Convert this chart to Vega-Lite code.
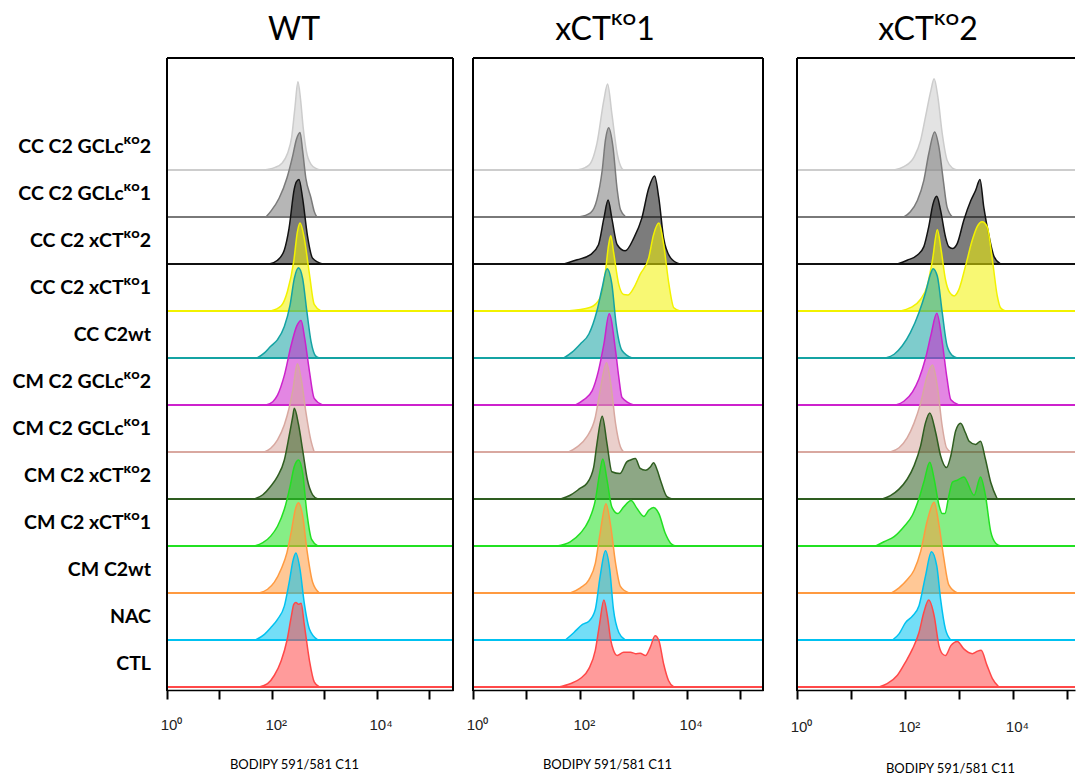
{
  "$schema": "https://vega.github.io/schema/vega-lite/v6.json",
  "padding": {"left": 12, "top": 14, "right": 0, "bottom": 0},
  "config": {"view": {"stroke": null}, "font": "Lato", "axis": {"grid": false, "labelOverlap": false, "labelBound": false, "labelFlush": false, "labelFont": "Liberation Sans", "labelFontSize": 15, "labelColor": "#222"}},
  "data": {"values": [
{"p":"WT","s":"CC C2 GCLcᴷᴼ2","L":1.85,"h":0},{"p":"WT","s":"CC C2 GCLcᴷᴼ2","L":2.05,"h":0.05},{"p":"WT","s":"CC C2 GCLcᴷᴼ2","L":2.2,"h":0.15},{"p":"WT","s":"CC C2 GCLcᴷᴼ2","L":2.3,"h":0.35},{"p":"WT","s":"CC C2 GCLcᴷᴼ2","L":2.38,"h":0.7},{"p":"WT","s":"CC C2 GCLcᴷᴼ2","L":2.44,"h":1.3},{"p":"WT","s":"CC C2 GCLcᴷᴼ2","L":2.5,"h":1.88},{"p":"WT","s":"CC C2 GCLcᴷᴼ2","L":2.55,"h":1.5},{"p":"WT","s":"CC C2 GCLcᴷᴼ2","L":2.6,"h":0.9},{"p":"WT","s":"CC C2 GCLcᴷᴼ2","L":2.66,"h":0.4},{"p":"WT","s":"CC C2 GCLcᴷᴼ2","L":2.75,"h":0.12},{"p":"WT","s":"CC C2 GCLcᴷᴼ2","L":2.85,"h":0.03},{"p":"WT","s":"CC C2 GCLcᴷᴼ2","L":2.94,"h":0},
{"p":"WT","s":"CC C2 GCLcᴷᴼ1","L":1.89,"h":0},{"p":"WT","s":"CC C2 GCLcᴷᴼ1","L":1.98,"h":0.12},{"p":"WT","s":"CC C2 GCLcᴷᴼ1","L":2.14,"h":0.4},{"p":"WT","s":"CC C2 GCLcᴷᴼ1","L":2.29,"h":0.83},{"p":"WT","s":"CC C2 GCLcᴷᴼ1","L":2.4,"h":1.3},{"p":"WT","s":"CC C2 GCLcᴷᴼ1","L":2.47,"h":1.65},{"p":"WT","s":"CC C2 GCLcᴷᴼ1","L":2.54,"h":1.8},{"p":"WT","s":"CC C2 GCLcᴷᴼ1","L":2.59,"h":1.4},{"p":"WT","s":"CC C2 GCLcᴷᴼ1","L":2.65,"h":0.83},{"p":"WT","s":"CC C2 GCLcᴷᴼ1","L":2.75,"h":0.4},{"p":"WT","s":"CC C2 GCLcᴷᴼ1","L":2.81,"h":0.12},{"p":"WT","s":"CC C2 GCLcᴷᴼ1","L":2.86,"h":0},
{"p":"WT","s":"CC C2 xCTᴷᴼ2","L":1.95,"h":0},{"p":"WT","s":"CC C2 xCTᴷᴼ2","L":2.11,"h":0.08},{"p":"WT","s":"CC C2 xCTᴷᴼ2","L":2.24,"h":0.3},{"p":"WT","s":"CC C2 xCTᴷᴼ2","L":2.33,"h":0.76},{"p":"WT","s":"CC C2 xCTᴷᴼ2","L":2.43,"h":1.6},{"p":"WT","s":"CC C2 xCTᴷᴼ2","L":2.47,"h":1.75},{"p":"WT","s":"CC C2 xCTᴷᴼ2","L":2.52,"h":1.8},{"p":"WT","s":"CC C2 xCTᴷᴼ2","L":2.59,"h":1.39},{"p":"WT","s":"CC C2 xCTᴷᴼ2","L":2.68,"h":0.61},{"p":"WT","s":"CC C2 xCTᴷᴼ2","L":2.78,"h":0.12},{"p":"WT","s":"CC C2 xCTᴷᴼ2","L":2.97,"h":0},
{"p":"WT","s":"CC C2 xCTᴷᴼ1","L":1.98,"h":0},{"p":"WT","s":"CC C2 xCTᴷᴼ1","L":2.18,"h":0.11},{"p":"WT","s":"CC C2 xCTᴷᴼ1","L":2.3,"h":0.42},{"p":"WT","s":"CC C2 xCTᴷᴼ1","L":2.42,"h":1.06},{"p":"WT","s":"CC C2 xCTᴷᴼ1","L":2.49,"h":1.69},{"p":"WT","s":"CC C2 xCTᴷᴼ1","L":2.54,"h":1.87},{"p":"WT","s":"CC C2 xCTᴷᴼ1","L":2.62,"h":1.55},{"p":"WT","s":"CC C2 xCTᴷᴼ1","L":2.72,"h":0.78},{"p":"WT","s":"CC C2 xCTᴷᴼ1","L":2.81,"h":0.14},{"p":"WT","s":"CC C2 xCTᴷᴼ1","L":2.94,"h":0},
{"p":"WT","s":"CC C2wt","L":1.72,"h":0},{"p":"WT","s":"CC C2wt","L":1.86,"h":0.11},{"p":"WT","s":"CC C2wt","L":1.98,"h":0.25},{"p":"WT","s":"CC C2wt","L":2.11,"h":0.39},{"p":"WT","s":"CC C2wt","L":2.24,"h":0.67},{"p":"WT","s":"CC C2wt","L":2.35,"h":1.13},{"p":"WT","s":"CC C2wt","L":2.43,"h":1.69},{"p":"WT","s":"CC C2wt","L":2.51,"h":1.92},{"p":"WT","s":"CC C2wt","L":2.59,"h":1.69},{"p":"WT","s":"CC C2wt","L":2.67,"h":0.99},{"p":"WT","s":"CC C2wt","L":2.75,"h":0.35},{"p":"WT","s":"CC C2wt","L":2.84,"h":0.04},{"p":"WT","s":"CC C2wt","L":2.91,"h":0},
{"p":"WT","s":"CM C2 GCLcᴷᴼ2","L":1.89,"h":0},{"p":"WT","s":"CM C2 GCLcᴷᴼ2","L":2.02,"h":0.07},{"p":"WT","s":"CM C2 GCLcᴷᴼ2","L":2.11,"h":0.21},{"p":"WT","s":"CM C2 GCLcᴷᴼ2","L":2.24,"h":0.63},{"p":"WT","s":"CM C2 GCLcᴷᴼ2","L":2.37,"h":1.27},{"p":"WT","s":"CM C2 GCLcᴷᴼ2","L":2.48,"h":1.69},{"p":"WT","s":"CM C2 GCLcᴷᴼ2","L":2.56,"h":1.8},{"p":"WT","s":"CM C2 GCLcᴷᴼ2","L":2.63,"h":1.41},{"p":"WT","s":"CM C2 GCLcᴷᴼ2","L":2.72,"h":0.71},{"p":"WT","s":"CM C2 GCLcᴷᴼ2","L":2.81,"h":0.14},{"p":"WT","s":"CM C2 GCLcᴷᴼ2","L":2.97,"h":0},
{"p":"WT","s":"CM C2 GCLcᴷᴼ1","L":1.86,"h":0},{"p":"WT","s":"CM C2 GCLcᴷᴼ1","L":1.98,"h":0.08},{"p":"WT","s":"CM C2 GCLcᴷᴼ1","L":2.11,"h":0.26},{"p":"WT","s":"CM C2 GCLcᴷᴼ1","L":2.24,"h":0.58},{"p":"WT","s":"CM C2 GCLcᴷᴼ1","L":2.33,"h":0.93},{"p":"WT","s":"CM C2 GCLcᴷᴼ1","L":2.4,"h":1.3},{"p":"WT","s":"CM C2 GCLcᴷᴼ1","L":2.49,"h":1.88},{"p":"WT","s":"CM C2 GCLcᴷᴼ1","L":2.57,"h":1.5},{"p":"WT","s":"CM C2 GCLcᴷᴼ1","L":2.65,"h":0.86},{"p":"WT","s":"CM C2 GCLcᴷᴼ1","L":2.75,"h":0.23},{"p":"WT","s":"CM C2 GCLcᴷᴼ1","L":2.81,"h":0},
{"p":"WT","s":"CM C2 xCTᴷᴼ2","L":1.67,"h":0},{"p":"WT","s":"CM C2 xCTᴷᴼ2","L":1.83,"h":0.09},{"p":"WT","s":"CM C2 xCTᴷᴼ2","L":1.98,"h":0.27},{"p":"WT","s":"CM C2 xCTᴷᴼ2","L":2.11,"h":0.48},{"p":"WT","s":"CM C2 xCTᴷᴼ2","L":2.24,"h":0.83},{"p":"WT","s":"CM C2 xCTᴷᴼ2","L":2.33,"h":1.33},{"p":"WT","s":"CM C2 xCTᴷᴼ2","L":2.4,"h":1.75},{"p":"WT","s":"CM C2 xCTᴷᴼ2","L":2.43,"h":1.93},{"p":"WT","s":"CM C2 xCTᴷᴼ2","L":2.51,"h":1.59},{"p":"WT","s":"CM C2 xCTᴷᴼ2","L":2.59,"h":1.04},{"p":"WT","s":"CM C2 xCTᴷᴼ2","L":2.68,"h":0.41},{"p":"WT","s":"CM C2 xCTᴷᴼ2","L":2.78,"h":0.09},{"p":"WT","s":"CM C2 xCTᴷᴼ2","L":2.88,"h":0},
{"p":"WT","s":"CM C2 xCTᴷᴼ1","L":1.67,"h":0},{"p":"WT","s":"CM C2 xCTᴷᴼ1","L":1.83,"h":0.07},{"p":"WT","s":"CM C2 xCTᴷᴼ1","L":1.98,"h":0.21},{"p":"WT","s":"CM C2 xCTᴷᴼ1","L":2.11,"h":0.42},{"p":"WT","s":"CM C2 xCTᴷᴼ1","L":2.24,"h":0.78},{"p":"WT","s":"CM C2 xCTᴷᴼ1","L":2.35,"h":1.27},{"p":"WT","s":"CM C2 xCTᴷᴼ1","L":2.43,"h":1.69},{"p":"WT","s":"CM C2 xCTᴷᴼ1","L":2.51,"h":1.83},{"p":"WT","s":"CM C2 xCTᴷᴼ1","L":2.59,"h":1.55},{"p":"WT","s":"CM C2 xCTᴷᴼ1","L":2.67,"h":0.71},{"p":"WT","s":"CM C2 xCTᴷᴼ1","L":2.76,"h":0.14},{"p":"WT","s":"CM C2 xCTᴷᴼ1","L":2.88,"h":0},
{"p":"WT","s":"CM C2wt","L":1.76,"h":0},{"p":"WT","s":"CM C2wt","L":1.92,"h":0.08},{"p":"WT","s":"CM C2wt","L":2.05,"h":0.23},{"p":"WT","s":"CM C2wt","L":2.18,"h":0.51},{"p":"WT","s":"CM C2wt","L":2.29,"h":0.86},{"p":"WT","s":"CM C2wt","L":2.38,"h":1.35},{"p":"WT","s":"CM C2wt","L":2.45,"h":1.78},{"p":"WT","s":"CM C2wt","L":2.51,"h":1.92},{"p":"WT","s":"CM C2wt","L":2.59,"h":1.64},{"p":"WT","s":"CM C2wt","L":2.67,"h":0.93},{"p":"WT","s":"CM C2wt","L":2.78,"h":0.23},{"p":"WT","s":"CM C2wt","L":2.91,"h":0},
{"p":"WT","s":"NAC","L":1.69,"h":0},{"p":"WT","s":"NAC","L":1.86,"h":0.12},{"p":"WT","s":"NAC","L":1.98,"h":0.26},{"p":"WT","s":"NAC","L":2.11,"h":0.44},{"p":"WT","s":"NAC","L":2.24,"h":0.72},{"p":"WT","s":"NAC","L":2.33,"h":1.21},{"p":"WT","s":"NAC","L":2.41,"h":1.71},{"p":"WT","s":"NAC","L":2.46,"h":1.85},{"p":"WT","s":"NAC","L":2.54,"h":1.5},{"p":"WT","s":"NAC","L":2.62,"h":0.79},{"p":"WT","s":"NAC","L":2.72,"h":0.23},{"p":"WT","s":"NAC","L":2.88,"h":0},
{"p":"WT","s":"CTL","L":1.76,"h":0},{"p":"WT","s":"CTL","L":1.92,"h":0.07},{"p":"WT","s":"CTL","L":2.05,"h":0.25},{"p":"WT","s":"CTL","L":2.18,"h":0.56},{"p":"WT","s":"CTL","L":2.29,"h":0.99},{"p":"WT","s":"CTL","L":2.37,"h":1.48},{"p":"WT","s":"CTL","L":2.42,"h":1.76},{"p":"WT","s":"CTL","L":2.46,"h":1.8},{"p":"WT","s":"CTL","L":2.51,"h":1.76},{"p":"WT","s":"CTL","L":2.56,"h":1.78},{"p":"WT","s":"CTL","L":2.62,"h":1.34},{"p":"WT","s":"CTL","L":2.72,"h":0.56},{"p":"WT","s":"CTL","L":2.81,"h":0.11},{"p":"WT","s":"CTL","L":2.91,"h":0},

{"p":"xCTᴷᴼ1","s":"CC C2 GCLcᴷᴼ2","L":1.95,"h":0},{"p":"xCTᴷᴼ1","s":"CC C2 GCLcᴷᴼ2","L":2.1,"h":0.05},{"p":"xCTᴷᴼ1","s":"CC C2 GCLcᴷᴼ2","L":2.2,"h":0.14},{"p":"xCTᴷᴼ1","s":"CC C2 GCLcᴷᴼ2","L":2.32,"h":0.56},{"p":"xCTᴷᴼ1","s":"CC C2 GCLcᴷᴼ2","L":2.45,"h":1.48},{"p":"xCTᴷᴼ1","s":"CC C2 GCLcᴷᴼ2","L":2.52,"h":1.83},{"p":"xCTᴷᴼ1","s":"CC C2 GCLcᴷᴼ2","L":2.6,"h":1.2},{"p":"xCTᴷᴼ1","s":"CC C2 GCLcᴷᴼ2","L":2.7,"h":0.35},{"p":"xCTᴷᴼ1","s":"CC C2 GCLcᴷᴼ2","L":2.79,"h":0.03},{"p":"xCTᴷᴼ1","s":"CC C2 GCLcᴷᴼ2","L":2.82,"h":0},
{"p":"xCTᴷᴼ1","s":"CC C2 GCLcᴷᴼ1","L":1.98,"h":0},{"p":"xCTᴷᴼ1","s":"CC C2 GCLcᴷᴼ1","L":2.2,"h":0.09},{"p":"xCTᴷᴼ1","s":"CC C2 GCLcᴷᴼ1","L":2.32,"h":0.37},{"p":"xCTᴷᴼ1","s":"CC C2 GCLcᴷᴼ1","L":2.42,"h":1.0},{"p":"xCTᴷᴼ1","s":"CC C2 GCLcᴷᴼ1","L":2.48,"h":1.64},{"p":"xCTᴷᴼ1","s":"CC C2 GCLcᴷᴼ1","L":2.54,"h":1.9},{"p":"xCTᴷᴼ1","s":"CC C2 GCLcᴷᴼ1","L":2.62,"h":1.5},{"p":"xCTᴷᴼ1","s":"CC C2 GCLcᴷᴼ1","L":2.7,"h":0.58},{"p":"xCTᴷᴼ1","s":"CC C2 GCLcᴷᴼ1","L":2.76,"h":0.16},{"p":"xCTᴷᴼ1","s":"CC C2 GCLcᴷᴼ1","L":2.86,"h":0},
{"p":"xCTᴷᴼ1","s":"CC C2 xCTᴷᴼ2","L":1.7,"h":0},{"p":"xCTᴷᴼ1","s":"CC C2 xCTᴷᴼ2","L":1.95,"h":0.09},{"p":"xCTᴷᴼ1","s":"CC C2 xCTᴷᴼ2","L":2.2,"h":0.2},{"p":"xCTᴷᴼ1","s":"CC C2 xCTᴷᴼ2","L":2.35,"h":0.41},{"p":"xCTᴷᴼ1","s":"CC C2 xCTᴷᴼ2","L":2.45,"h":0.97},{"p":"xCTᴷᴼ1","s":"CC C2 xCTᴷᴼ2","L":2.53,"h":1.36},{"p":"xCTᴷᴼ1","s":"CC C2 xCTᴷᴼ2","L":2.6,"h":0.97},{"p":"xCTᴷᴼ1","s":"CC C2 xCTᴷᴼ2","L":2.7,"h":0.41},{"p":"xCTᴷᴼ1","s":"CC C2 xCTᴷᴼ2","L":2.85,"h":0.28},{"p":"xCTᴷᴼ1","s":"CC C2 xCTᴷᴼ2","L":3.01,"h":0.55},{"p":"xCTᴷᴼ1","s":"CC C2 xCTᴷᴼ2","L":3.16,"h":0.97},{"p":"xCTᴷᴼ1","s":"CC C2 xCTᴷᴼ2","L":3.29,"h":1.61},{"p":"xCTᴷᴼ1","s":"CC C2 xCTᴷᴼ2","L":3.4,"h":1.87},{"p":"xCTᴷᴼ1","s":"CC C2 xCTᴷᴼ2","L":3.48,"h":1.4},{"p":"xCTᴷᴼ1","s":"CC C2 xCTᴷᴼ2","L":3.57,"h":0.55},{"p":"xCTᴷᴼ1","s":"CC C2 xCTᴷᴼ2","L":3.7,"h":0.13},{"p":"xCTᴷᴼ1","s":"CC C2 xCTᴷᴼ2","L":3.87,"h":0},
{"p":"xCTᴷᴼ1","s":"CC C2 xCTᴷᴼ1","L":1.76,"h":0},{"p":"xCTᴷᴼ1","s":"CC C2 xCTᴷᴼ1","L":2.2,"h":0.08},{"p":"xCTᴷᴼ1","s":"CC C2 xCTᴷᴼ1","L":2.38,"h":0.28},{"p":"xCTᴷᴼ1","s":"CC C2 xCTᴷᴼ1","L":2.48,"h":0.85},{"p":"xCTᴷᴼ1","s":"CC C2 xCTᴷᴼ1","L":2.54,"h":1.41},{"p":"xCTᴷᴼ1","s":"CC C2 xCTᴷᴼ1","L":2.58,"h":1.6},{"p":"xCTᴷᴼ1","s":"CC C2 xCTᴷᴼ1","L":2.63,"h":1.27},{"p":"xCTᴷᴼ1","s":"CC C2 xCTᴷᴼ1","L":2.73,"h":0.56},{"p":"xCTᴷᴼ1","s":"CC C2 xCTᴷᴼ1","L":2.82,"h":0.35},{"p":"xCTᴷᴼ1","s":"CC C2 xCTᴷᴼ1","L":2.9,"h":0.34},{"p":"xCTᴷᴼ1","s":"CC C2 xCTᴷᴼ1","L":3.01,"h":0.49},{"p":"xCTᴷᴼ1","s":"CC C2 xCTᴷᴼ1","L":3.13,"h":0.78},{"p":"xCTᴷᴼ1","s":"CC C2 xCTᴷᴼ1","L":3.29,"h":1.13},{"p":"xCTᴷᴼ1","s":"CC C2 xCTᴷᴼ1","L":3.38,"h":1.62},{"p":"xCTᴷᴼ1","s":"CC C2 xCTᴷᴼ1","L":3.48,"h":1.87},{"p":"xCTᴷᴼ1","s":"CC C2 xCTᴷᴼ1","L":3.57,"h":1.41},{"p":"xCTᴷᴼ1","s":"CC C2 xCTᴷᴼ1","L":3.67,"h":0.56},{"p":"xCTᴷᴼ1","s":"CC C2 xCTᴷᴼ1","L":3.76,"h":0.07},{"p":"xCTᴷᴼ1","s":"CC C2 xCTᴷᴼ1","L":3.88,"h":0},
{"p":"xCTᴷᴼ1","s":"CC C2wt","L":1.7,"h":0},{"p":"xCTᴷᴼ1","s":"CC C2wt","L":1.85,"h":0.12},{"p":"xCTᴷᴼ1","s":"CC C2wt","L":2.01,"h":0.3},{"p":"xCTᴷᴼ1","s":"CC C2wt","L":2.17,"h":0.51},{"p":"xCTᴷᴼ1","s":"CC C2wt","L":2.32,"h":1.0},{"p":"xCTᴷᴼ1","s":"CC C2wt","L":2.42,"h":1.5},{"p":"xCTᴷᴼ1","s":"CC C2wt","L":2.51,"h":1.9},{"p":"xCTᴷᴼ1","s":"CC C2wt","L":2.6,"h":1.57},{"p":"xCTᴷᴼ1","s":"CC C2wt","L":2.68,"h":0.72},{"p":"xCTᴷᴼ1","s":"CC C2wt","L":2.79,"h":0.16},{"p":"xCTᴷᴼ1","s":"CC C2wt","L":2.98,"h":0},
{"p":"xCTᴷᴼ1","s":"CM C2 GCLcᴷᴼ2","L":1.92,"h":0},{"p":"xCTᴷᴼ1","s":"CM C2 GCLcᴷᴼ2","L":2.07,"h":0.11},{"p":"xCTᴷᴼ1","s":"CM C2 GCLcᴷᴼ2","L":2.23,"h":0.3},{"p":"xCTᴷᴼ1","s":"CM C2 GCLcᴷᴼ2","L":2.35,"h":0.73},{"p":"xCTᴷᴼ1","s":"CM C2 GCLcᴷᴼ2","L":2.45,"h":1.29},{"p":"xCTᴷᴼ1","s":"CM C2 GCLcᴷᴼ2","L":2.55,"h":1.94},{"p":"xCTᴷᴼ1","s":"CM C2 GCLcᴷᴼ2","L":2.67,"h":1.15},{"p":"xCTᴷᴼ1","s":"CM C2 GCLcᴷᴼ2","L":2.73,"h":0.59},{"p":"xCTᴷᴼ1","s":"CM C2 GCLcᴷᴼ2","L":2.79,"h":0.16},{"p":"xCTᴷᴼ1","s":"CM C2 GCLcᴷᴼ2","L":3.01,"h":0},
{"p":"xCTᴷᴼ1","s":"CM C2 GCLcᴷᴼ1","L":1.79,"h":0},{"p":"xCTᴷᴼ1","s":"CM C2 GCLcᴷᴼ1","L":1.95,"h":0.11},{"p":"xCTᴷᴼ1","s":"CM C2 GCLcᴷᴼ1","L":2.13,"h":0.32},{"p":"xCTᴷᴼ1","s":"CM C2 GCLcᴷᴼ1","L":2.29,"h":0.74},{"p":"xCTᴷᴼ1","s":"CM C2 GCLcᴷᴼ1","L":2.38,"h":1.3},{"p":"xCTᴷᴼ1","s":"CM C2 GCLcᴷᴼ1","L":2.5,"h":1.9},{"p":"xCTᴷᴼ1","s":"CM C2 GCLcᴷᴼ1","L":2.58,"h":1.45},{"p":"xCTᴷᴼ1","s":"CM C2 GCLcᴷᴼ1","L":2.67,"h":0.6},{"p":"xCTᴷᴼ1","s":"CM C2 GCLcᴷᴼ1","L":2.76,"h":0.11},{"p":"xCTᴷᴼ1","s":"CM C2 GCLcᴷᴼ1","L":2.82,"h":0},
{"p":"xCTᴷᴼ1","s":"CM C2 xCTᴷᴼ2","L":1.64,"h":0},{"p":"xCTᴷᴼ1","s":"CM C2 xCTᴷᴼ2","L":1.82,"h":0.08},{"p":"xCTᴷᴼ1","s":"CM C2 xCTᴷᴼ2","L":2.01,"h":0.23},{"p":"xCTᴷᴼ1","s":"CM C2 xCTᴷᴼ2","L":2.13,"h":0.33},{"p":"xCTᴷᴼ1","s":"CM C2 xCTᴷᴼ2","L":2.26,"h":0.68},{"p":"xCTᴷᴼ1","s":"CM C2 xCTᴷᴼ2","L":2.32,"h":1.17},{"p":"xCTᴷᴼ1","s":"CM C2 xCTᴷᴼ2","L":2.42,"h":1.76},{"p":"xCTᴷᴼ1","s":"CM C2 xCTᴷᴼ2","L":2.51,"h":1.17},{"p":"xCTᴷᴼ1","s":"CM C2 xCTᴷᴼ2","L":2.6,"h":0.58},{"p":"xCTᴷᴼ1","s":"CM C2 xCTᴷᴼ2","L":2.75,"h":0.54},{"p":"xCTᴷᴼ1","s":"CM C2 xCTᴷᴼ2","L":2.88,"h":0.79},{"p":"xCTᴷᴼ1","s":"CM C2 xCTᴷᴼ2","L":2.95,"h":0.83},{"p":"xCTᴷᴼ1","s":"CM C2 xCTᴷᴼ2","L":3.04,"h":0.86},{"p":"xCTᴷᴼ1","s":"CM C2 xCTᴷᴼ2","L":3.13,"h":0.65},{"p":"xCTᴷᴼ1","s":"CM C2 xCTᴷᴼ2","L":3.23,"h":0.61},{"p":"xCTᴷᴼ1","s":"CM C2 xCTᴷᴼ2","L":3.32,"h":0.68},{"p":"xCTᴷᴼ1","s":"CM C2 xCTᴷᴼ2","L":3.38,"h":0.77},{"p":"xCTᴷᴼ1","s":"CM C2 xCTᴷᴼ2","L":3.45,"h":0.61},{"p":"xCTᴷᴼ1","s":"CM C2 xCTᴷᴼ2","L":3.51,"h":0.4},{"p":"xCTᴷᴼ1","s":"CM C2 xCTᴷᴼ2","L":3.63,"h":0.05},{"p":"xCTᴷᴼ1","s":"CM C2 xCTᴷᴼ2","L":3.73,"h":0},
{"p":"xCTᴷᴼ1","s":"CM C2 xCTᴷᴼ1","L":1.57,"h":0},{"p":"xCTᴷᴼ1","s":"CM C2 xCTᴷᴼ1","L":1.82,"h":0.09},{"p":"xCTᴷᴼ1","s":"CM C2 xCTᴷᴼ1","L":2.01,"h":0.27},{"p":"xCTᴷᴼ1","s":"CM C2 xCTᴷᴼ1","L":2.17,"h":0.55},{"p":"xCTᴷᴼ1","s":"CM C2 xCTᴷᴼ1","L":2.29,"h":0.97},{"p":"xCTᴷᴼ1","s":"CM C2 xCTᴷᴼ1","L":2.37,"h":1.54},{"p":"xCTᴷᴼ1","s":"CM C2 xCTᴷᴼ1","L":2.43,"h":1.85},{"p":"xCTᴷᴼ1","s":"CM C2 xCTᴷᴼ1","L":2.51,"h":1.4},{"p":"xCTᴷᴼ1","s":"CM C2 xCTᴷᴼ1","L":2.6,"h":0.83},{"p":"xCTᴷᴼ1","s":"CM C2 xCTᴷᴼ1","L":2.71,"h":0.69},{"p":"xCTᴷᴼ1","s":"CM C2 xCTᴷᴼ1","L":2.82,"h":0.83},{"p":"xCTᴷᴼ1","s":"CM C2 xCTᴷᴼ1","L":2.96,"h":0.97},{"p":"xCTᴷᴼ1","s":"CM C2 xCTᴷᴼ1","L":3.07,"h":0.8},{"p":"xCTᴷᴼ1","s":"CM C2 xCTᴷᴼ1","L":3.2,"h":0.63},{"p":"xCTᴷᴼ1","s":"CM C2 xCTᴷᴼ1","L":3.29,"h":0.76},{"p":"xCTᴷᴼ1","s":"CM C2 xCTᴷᴼ1","L":3.38,"h":0.82},{"p":"xCTᴷᴼ1","s":"CM C2 xCTᴷᴼ1","L":3.48,"h":0.69},{"p":"xCTᴷᴼ1","s":"CM C2 xCTᴷᴼ1","L":3.6,"h":0.27},{"p":"xCTᴷᴼ1","s":"CM C2 xCTᴷᴼ1","L":3.7,"h":0.06},{"p":"xCTᴷᴼ1","s":"CM C2 xCTᴷᴼ1","L":3.79,"h":0},
{"p":"xCTᴷᴼ1","s":"CM C2wt","L":1.82,"h":0},{"p":"xCTᴷᴼ1","s":"CM C2wt","L":2.01,"h":0.11},{"p":"xCTᴷᴼ1","s":"CM C2wt","L":2.17,"h":0.28},{"p":"xCTᴷᴼ1","s":"CM C2wt","L":2.29,"h":0.63},{"p":"xCTᴷᴼ1","s":"CM C2wt","L":2.38,"h":1.27},{"p":"xCTᴷᴼ1","s":"CM C2wt","L":2.49,"h":1.9},{"p":"xCTᴷᴼ1","s":"CM C2wt","L":2.58,"h":1.41},{"p":"xCTᴷᴼ1","s":"CM C2wt","L":2.67,"h":0.63},{"p":"xCTᴷᴼ1","s":"CM C2wt","L":2.76,"h":0.14},{"p":"xCTᴷᴼ1","s":"CM C2wt","L":2.92,"h":0},
{"p":"xCTᴷᴼ1","s":"NAC","L":1.73,"h":0},{"p":"xCTᴷᴼ1","s":"NAC","L":1.89,"h":0.16},{"p":"xCTᴷᴼ1","s":"NAC","L":2.05,"h":0.33},{"p":"xCTᴷᴼ1","s":"NAC","L":2.17,"h":0.4},{"p":"xCTᴷᴼ1","s":"NAC","L":2.29,"h":0.65},{"p":"xCTᴷᴼ1","s":"NAC","L":2.38,"h":1.35},{"p":"xCTᴷᴼ1","s":"NAC","L":2.48,"h":1.9},{"p":"xCTᴷᴼ1","s":"NAC","L":2.56,"h":1.5},{"p":"xCTᴷᴼ1","s":"NAC","L":2.63,"h":0.65},{"p":"xCTᴷᴼ1","s":"NAC","L":2.73,"h":0.16},{"p":"xCTᴷᴼ1","s":"NAC","L":2.85,"h":0},
{"p":"xCTᴷᴼ1","s":"CTL","L":1.6,"h":0},{"p":"xCTᴷᴼ1","s":"CTL","L":1.82,"h":0.07},{"p":"xCTᴷᴼ1","s":"CTL","L":2.01,"h":0.18},{"p":"xCTᴷᴼ1","s":"CTL","L":2.17,"h":0.39},{"p":"xCTᴷᴼ1","s":"CTL","L":2.29,"h":0.78},{"p":"xCTᴷᴼ1","s":"CTL","L":2.37,"h":1.34},{"p":"xCTᴷᴼ1","s":"CTL","L":2.45,"h":1.85},{"p":"xCTᴷᴼ1","s":"CTL","L":2.52,"h":1.48},{"p":"xCTᴷᴼ1","s":"CTL","L":2.58,"h":0.99},{"p":"xCTᴷᴼ1","s":"CTL","L":2.63,"h":0.78},{"p":"xCTᴷᴼ1","s":"CTL","L":2.7,"h":0.67},{"p":"xCTᴷᴼ1","s":"CTL","L":2.82,"h":0.74},{"p":"xCTᴷᴼ1","s":"CTL","L":2.95,"h":0.74},{"p":"xCTᴷᴼ1","s":"CTL","L":3.04,"h":0.71},{"p":"xCTᴷᴼ1","s":"CTL","L":3.13,"h":0.72},{"p":"xCTᴷᴼ1","s":"CTL","L":3.23,"h":0.67},{"p":"xCTᴷᴼ1","s":"CTL","L":3.32,"h":0.85},{"p":"xCTᴷᴼ1","s":"CTL","L":3.41,"h":1.09},{"p":"xCTᴷᴼ1","s":"CTL","L":3.48,"h":0.99},{"p":"xCTᴷᴼ1","s":"CTL","L":3.57,"h":0.49},{"p":"xCTᴷᴼ1","s":"CTL","L":3.66,"h":0.14},{"p":"xCTᴷᴼ1","s":"CTL","L":3.76,"h":0},

{"p":"xCTᴷᴼ2","s":"CC C2 GCLcᴷᴼ2","L":1.8,"h":0},{"p":"xCTᴷᴼ2","s":"CC C2 GCLcᴷᴼ2","L":1.98,"h":0.07},{"p":"xCTᴷᴼ2","s":"CC C2 GCLcᴷᴼ2","L":2.17,"h":0.28},{"p":"xCTᴷᴼ2","s":"CC C2 GCLcᴷᴼ2","L":2.29,"h":0.63},{"p":"xCTᴷᴼ2","s":"CC C2 GCLcᴷᴼ2","L":2.38,"h":1.13},{"p":"xCTᴷᴼ2","s":"CC C2 GCLcᴷᴼ2","L":2.48,"h":1.69},{"p":"xCTᴷᴼ2","s":"CC C2 GCLcᴷᴼ2","L":2.54,"h":1.94},{"p":"xCTᴷᴼ2","s":"CC C2 GCLcᴷᴼ2","L":2.61,"h":1.55},{"p":"xCTᴷᴼ2","s":"CC C2 GCLcᴷᴼ2","L":2.69,"h":0.78},{"p":"xCTᴷᴼ2","s":"CC C2 GCLcᴷᴼ2","L":2.78,"h":0.21},{"p":"xCTᴷᴼ2","s":"CC C2 GCLcᴷᴼ2","L":2.88,"h":0.04},{"p":"xCTᴷᴼ2","s":"CC C2 GCLcᴷᴼ2","L":2.97,"h":0},
{"p":"xCTᴷᴼ2","s":"CC C2 GCLcᴷᴼ1","L":1.98,"h":0},{"p":"xCTᴷᴼ2","s":"CC C2 GCLcᴷᴼ1","L":2.1,"h":0.11},{"p":"xCTᴷᴼ2","s":"CC C2 GCLcᴷᴼ1","L":2.23,"h":0.35},{"p":"xCTᴷᴼ2","s":"CC C2 GCLcᴷᴼ1","L":2.35,"h":0.78},{"p":"xCTᴷᴼ2","s":"CC C2 GCLcᴷᴼ1","L":2.44,"h":1.34},{"p":"xCTᴷᴼ2","s":"CC C2 GCLcᴷᴼ1","L":2.55,"h":1.81},{"p":"xCTᴷᴼ2","s":"CC C2 GCLcᴷᴼ1","L":2.63,"h":1.48},{"p":"xCTᴷᴼ2","s":"CC C2 GCLcᴷᴼ1","L":2.71,"h":0.78},{"p":"xCTᴷᴼ2","s":"CC C2 GCLcᴷᴼ1","L":2.78,"h":0.21},{"p":"xCTᴷᴼ2","s":"CC C2 GCLcᴷᴼ1","L":2.88,"h":0},
{"p":"xCTᴷᴼ2","s":"CC C2 xCTᴷᴼ2","L":1.86,"h":0},{"p":"xCTᴷᴼ2","s":"CC C2 xCTᴷᴼ2","L":2.04,"h":0.08},{"p":"xCTᴷᴼ2","s":"CC C2 xCTᴷᴼ2","L":2.23,"h":0.19},{"p":"xCTᴷᴼ2","s":"CC C2 xCTᴷᴼ2","L":2.35,"h":0.37},{"p":"xCTᴷᴼ2","s":"CC C2 xCTᴷᴼ2","L":2.44,"h":0.79},{"p":"xCTᴷᴼ2","s":"CC C2 xCTᴷᴼ2","L":2.52,"h":1.28},{"p":"xCTᴷᴼ2","s":"CC C2 xCTᴷᴼ2","L":2.59,"h":1.44},{"p":"xCTᴷᴼ2","s":"CC C2 xCTᴷᴼ2","L":2.66,"h":1.14},{"p":"xCTᴷᴼ2","s":"CC C2 xCTᴷᴼ2","L":2.75,"h":0.58},{"p":"xCTᴷᴼ2","s":"CC C2 xCTᴷᴼ2","L":2.81,"h":0.37},{"p":"xCTᴷᴼ2","s":"CC C2 xCTᴷᴼ2","L":2.88,"h":0.33},{"p":"xCTᴷᴼ2","s":"CC C2 xCTᴷᴼ2","L":2.97,"h":0.44},{"p":"xCTᴷᴼ2","s":"CC C2 xCTᴷᴼ2","L":3.09,"h":0.93},{"p":"xCTᴷᴼ2","s":"CC C2 xCTᴷᴼ2","L":3.22,"h":1.35},{"p":"xCTᴷᴼ2","s":"CC C2 xCTᴷᴼ2","L":3.31,"h":1.57},{"p":"xCTᴷᴼ2","s":"CC C2 xCTᴷᴼ2","L":3.39,"h":1.8},{"p":"xCTᴷᴼ2","s":"CC C2 xCTᴷᴼ2","L":3.46,"h":1.21},{"p":"xCTᴷᴼ2","s":"CC C2 xCTᴷᴼ2","L":3.56,"h":0.58},{"p":"xCTᴷᴼ2","s":"CC C2 xCTᴷᴼ2","L":3.65,"h":0.16},{"p":"xCTᴷᴼ2","s":"CC C2 xCTᴷᴼ2","L":3.77,"h":0},
{"p":"xCTᴷᴼ2","s":"CC C2 xCTᴷᴼ1","L":1.92,"h":0},{"p":"xCTᴷᴼ2","s":"CC C2 xCTᴷᴼ1","L":2.1,"h":0.07},{"p":"xCTᴷᴼ2","s":"CC C2 xCTᴷᴼ1","L":2.29,"h":0.25},{"p":"xCTᴷᴼ2","s":"CC C2 xCTᴷᴼ1","L":2.41,"h":0.53},{"p":"xCTᴷᴼ2","s":"CC C2 xCTᴷᴼ1","L":2.51,"h":1.09},{"p":"xCTᴷᴼ2","s":"CC C2 xCTᴷᴼ1","L":2.6,"h":1.73},{"p":"xCTᴷᴼ2","s":"CC C2 xCTᴷᴼ1","L":2.67,"h":1.3},{"p":"xCTᴷᴼ2","s":"CC C2 xCTᴷᴼ1","L":2.75,"h":0.67},{"p":"xCTᴷᴼ2","s":"CC C2 xCTᴷᴼ1","L":2.83,"h":0.39},{"p":"xCTᴷᴼ2","s":"CC C2 xCTᴷᴼ1","L":2.91,"h":0.32},{"p":"xCTᴷᴼ2","s":"CC C2 xCTᴷᴼ1","L":3.0,"h":0.46},{"p":"xCTᴷᴼ2","s":"CC C2 xCTᴷᴼ1","L":3.12,"h":0.95},{"p":"xCTᴷᴼ2","s":"CC C2 xCTᴷᴼ1","L":3.25,"h":1.52},{"p":"xCTᴷᴼ2","s":"CC C2 xCTᴷᴼ1","L":3.34,"h":1.8},{"p":"xCTᴷᴼ2","s":"CC C2 xCTᴷᴼ1","L":3.43,"h":1.9},{"p":"xCTᴷᴼ2","s":"CC C2 xCTᴷᴼ1","L":3.52,"h":1.8},{"p":"xCTᴷᴼ2","s":"CC C2 xCTᴷᴼ1","L":3.62,"h":1.09},{"p":"xCTᴷᴼ2","s":"CC C2 xCTᴷᴼ1","L":3.71,"h":0.32},{"p":"xCTᴷᴼ2","s":"CC C2 xCTᴷᴼ1","L":3.77,"h":0.07},{"p":"xCTᴷᴼ2","s":"CC C2 xCTᴷᴼ1","L":3.86,"h":0},
{"p":"xCTᴷᴼ2","s":"CC C2wt","L":1.64,"h":0},{"p":"xCTᴷᴼ2","s":"CC C2wt","L":1.8,"h":0.08},{"p":"xCTᴷᴼ2","s":"CC C2wt","L":1.95,"h":0.26},{"p":"xCTᴷᴼ2","s":"CC C2wt","L":2.1,"h":0.54},{"p":"xCTᴷᴼ2","s":"CC C2wt","L":2.26,"h":0.97},{"p":"xCTᴷᴼ2","s":"CC C2wt","L":2.38,"h":1.39},{"p":"xCTᴷᴼ2","s":"CC C2wt","L":2.48,"h":1.81},{"p":"xCTᴷᴼ2","s":"CC C2wt","L":2.52,"h":1.9},{"p":"xCTᴷᴼ2","s":"CC C2wt","L":2.6,"h":1.74},{"p":"xCTᴷᴼ2","s":"CC C2wt","L":2.69,"h":0.97},{"p":"xCTᴷᴼ2","s":"CC C2wt","L":2.78,"h":0.26},{"p":"xCTᴷᴼ2","s":"CC C2wt","L":2.88,"h":0.05},{"p":"xCTᴷᴼ2","s":"CC C2wt","L":2.97,"h":0},
{"p":"xCTᴷᴼ2","s":"CM C2 GCLcᴷᴼ2","L":1.83,"h":0},{"p":"xCTᴷᴼ2","s":"CM C2 GCLcᴷᴼ2","L":1.98,"h":0.08},{"p":"xCTᴷᴼ2","s":"CM C2 GCLcᴷᴼ2","L":2.14,"h":0.28},{"p":"xCTᴷᴼ2","s":"CM C2 GCLcᴷᴼ2","L":2.26,"h":0.56},{"p":"xCTᴷᴼ2","s":"CM C2 GCLcᴷᴼ2","L":2.38,"h":0.99},{"p":"xCTᴷᴼ2","s":"CM C2 GCLcᴷᴼ2","L":2.48,"h":1.48},{"p":"xCTᴷᴼ2","s":"CM C2 GCLcᴷᴼ2","L":2.59,"h":1.95},{"p":"xCTᴷᴼ2","s":"CM C2 GCLcᴷᴼ2","L":2.69,"h":1.34},{"p":"xCTᴷᴼ2","s":"CM C2 GCLcᴷᴼ2","L":2.78,"h":0.56},{"p":"xCTᴷᴼ2","s":"CM C2 GCLcᴷᴼ2","L":2.85,"h":0.11},{"p":"xCTᴷᴼ2","s":"CM C2 GCLcᴷᴼ2","L":3.0,"h":0},
{"p":"xCTᴷᴼ2","s":"CM C2 GCLcᴷᴼ1","L":1.73,"h":0},{"p":"xCTᴷᴼ2","s":"CM C2 GCLcᴷᴼ1","L":1.89,"h":0.09},{"p":"xCTᴷᴼ2","s":"CM C2 GCLcᴷᴼ1","L":2.04,"h":0.3},{"p":"xCTᴷᴼ2","s":"CM C2 GCLcᴷᴼ1","L":2.17,"h":0.62},{"p":"xCTᴷᴼ2","s":"CM C2 GCLcᴷᴼ1","L":2.29,"h":1.04},{"p":"xCTᴷᴼ2","s":"CM C2 GCLcᴷᴼ1","L":2.41,"h":1.61},{"p":"xCTᴷᴼ2","s":"CM C2 GCLcᴷᴼ1","L":2.51,"h":1.85},{"p":"xCTᴷᴼ2","s":"CM C2 GCLcᴷᴼ1","L":2.6,"h":1.4},{"p":"xCTᴷᴼ2","s":"CM C2 GCLcᴷᴼ1","L":2.69,"h":0.55},{"p":"xCTᴷᴼ2","s":"CM C2 GCLcᴷᴼ1","L":2.77,"h":0.09},{"p":"xCTᴷᴼ2","s":"CM C2 GCLcᴷᴼ1","L":2.85,"h":0},
{"p":"xCTᴷᴼ2","s":"CM C2 xCTᴷᴼ2","L":1.58,"h":0},{"p":"xCTᴷᴼ2","s":"CM C2 xCTᴷᴼ2","L":1.73,"h":0.07},{"p":"xCTᴷᴼ2","s":"CM C2 xCTᴷᴼ2","L":1.89,"h":0.21},{"p":"xCTᴷᴼ2","s":"CM C2 xCTᴷᴼ2","L":2.04,"h":0.42},{"p":"xCTᴷᴼ2","s":"CM C2 xCTᴷᴼ2","L":2.17,"h":0.71},{"p":"xCTᴷᴼ2","s":"CM C2 xCTᴷᴼ2","L":2.29,"h":1.13},{"p":"xCTᴷᴼ2","s":"CM C2 xCTᴷᴼ2","L":2.38,"h":1.62},{"p":"xCTᴷᴼ2","s":"CM C2 xCTᴷᴼ2","L":2.46,"h":1.83},{"p":"xCTᴷᴼ2","s":"CM C2 xCTᴷᴼ2","L":2.57,"h":1.41},{"p":"xCTᴷᴼ2","s":"CM C2 xCTᴷᴼ2","L":2.66,"h":0.92},{"p":"xCTᴷᴼ2","s":"CM C2 xCTᴷᴼ2","L":2.77,"h":0.67},{"p":"xCTᴷᴼ2","s":"CM C2 xCTᴷᴼ2","L":2.85,"h":0.92},{"p":"xCTᴷᴼ2","s":"CM C2 xCTᴷᴼ2","L":2.94,"h":1.45},{"p":"xCTᴷᴼ2","s":"CM C2 xCTᴷᴼ2","L":3.03,"h":1.61},{"p":"xCTᴷᴼ2","s":"CM C2 xCTᴷᴼ2","L":3.12,"h":1.41},{"p":"xCTᴷᴼ2","s":"CM C2 xCTᴷᴼ2","L":3.19,"h":1.23},{"p":"xCTᴷᴼ2","s":"CM C2 xCTᴷᴼ2","L":3.31,"h":1.16},{"p":"xCTᴷᴼ2","s":"CM C2 xCTᴷᴼ2","L":3.4,"h":1.23},{"p":"xCTᴷᴼ2","s":"CM C2 xCTᴷᴼ2","L":3.49,"h":0.85},{"p":"xCTᴷᴼ2","s":"CM C2 xCTᴷᴼ2","L":3.59,"h":0.35},{"p":"xCTᴷᴼ2","s":"CM C2 xCTᴷᴼ2","L":3.71,"h":0},
{"p":"xCTᴷᴼ2","s":"CM C2 xCTᴷᴼ1","L":1.46,"h":0},{"p":"xCTᴷᴼ2","s":"CM C2 xCTᴷᴼ1","L":1.61,"h":0.09},{"p":"xCTᴷᴼ2","s":"CM C2 xCTᴷᴼ1","L":1.8,"h":0.2},{"p":"xCTᴷᴼ2","s":"CM C2 xCTᴷᴼ1","L":1.98,"h":0.41},{"p":"xCTᴷᴼ2","s":"CM C2 xCTᴷᴼ1","L":2.14,"h":0.66},{"p":"xCTᴷᴼ2","s":"CM C2 xCTᴷᴼ1","L":2.26,"h":1.01},{"p":"xCTᴷᴼ2","s":"CM C2 xCTᴷᴼ1","L":2.35,"h":1.36},{"p":"xCTᴷᴼ2","s":"CM C2 xCTᴷᴼ1","L":2.46,"h":1.78},{"p":"xCTᴷᴼ2","s":"CM C2 xCTᴷᴼ1","L":2.54,"h":1.43},{"p":"xCTᴷᴼ2","s":"CM C2 xCTᴷᴼ1","L":2.63,"h":0.87},{"p":"xCTᴷᴼ2","s":"CM C2 xCTᴷᴼ1","L":2.69,"h":0.69},{"p":"xCTᴷᴼ2","s":"CM C2 xCTᴷᴼ1","L":2.74,"h":0.69},{"p":"xCTᴷᴼ2","s":"CM C2 xCTᴷᴼ1","L":2.81,"h":1.05},{"p":"xCTᴷᴼ2","s":"CM C2 xCTᴷᴼ1","L":2.88,"h":1.36},{"p":"xCTᴷᴼ2","s":"CM C2 xCTᴷᴼ1","L":2.97,"h":1.4},{"p":"xCTᴷᴼ2","s":"CM C2 xCTᴷᴼ1","L":3.09,"h":1.47},{"p":"xCTᴷᴼ2","s":"CM C2 xCTᴷᴼ1","L":3.28,"h":1.08},{"p":"xCTᴷᴼ2","s":"CM C2 xCTᴷᴼ1","L":3.4,"h":1.47},{"p":"xCTᴷᴼ2","s":"CM C2 xCTᴷᴼ1","L":3.49,"h":1.08},{"p":"xCTᴷᴼ2","s":"CM C2 xCTᴷᴼ1","L":3.59,"h":0.3},{"p":"xCTᴷᴼ2","s":"CM C2 xCTᴷᴼ1","L":3.68,"h":0.06},{"p":"xCTᴷᴼ2","s":"CM C2 xCTᴷᴼ1","L":3.77,"h":0},
{"p":"xCTᴷᴼ2","s":"CM C2wt","L":1.75,"h":0},{"p":"xCTᴷᴼ2","s":"CM C2wt","L":1.89,"h":0.11},{"p":"xCTᴷᴼ2","s":"CM C2wt","L":2.04,"h":0.28},{"p":"xCTᴷᴼ2","s":"CM C2wt","L":2.17,"h":0.49},{"p":"xCTᴷᴼ2","s":"CM C2wt","L":2.29,"h":0.88},{"p":"xCTᴷᴼ2","s":"CM C2wt","L":2.41,"h":1.52},{"p":"xCTᴷᴼ2","s":"CM C2wt","L":2.54,"h":1.93},{"p":"xCTᴷᴼ2","s":"CM C2wt","L":2.63,"h":1.45},{"p":"xCTᴷᴼ2","s":"CM C2wt","L":2.72,"h":0.74},{"p":"xCTᴷᴼ2","s":"CM C2wt","L":2.81,"h":0.18},{"p":"xCTᴷᴼ2","s":"CM C2wt","L":2.97,"h":0},
{"p":"xCTᴷᴼ2","s":"NAC","L":1.77,"h":0},{"p":"xCTᴷᴼ2","s":"NAC","L":1.89,"h":0.13},{"p":"xCTᴷᴼ2","s":"NAC","L":2.01,"h":0.37},{"p":"xCTᴷᴼ2","s":"NAC","L":2.14,"h":0.51},{"p":"xCTᴷᴼ2","s":"NAC","L":2.26,"h":0.73},{"p":"xCTᴷᴼ2","s":"NAC","L":2.38,"h":1.36},{"p":"xCTᴷᴼ2","s":"NAC","L":2.49,"h":1.88},{"p":"xCTᴷᴼ2","s":"NAC","L":2.59,"h":1.57},{"p":"xCTᴷᴼ2","s":"NAC","L":2.66,"h":0.87},{"p":"xCTᴷᴼ2","s":"NAC","L":2.75,"h":0.23},{"p":"xCTᴷᴼ2","s":"NAC","L":2.85,"h":0},
{"p":"xCTᴷᴼ2","s":"CTL","L":1.52,"h":0},{"p":"xCTᴷᴼ2","s":"CTL","L":1.67,"h":0.07},{"p":"xCTᴷᴼ2","s":"CTL","L":1.86,"h":0.25},{"p":"xCTᴷᴼ2","s":"CTL","L":2.01,"h":0.53},{"p":"xCTᴷᴼ2","s":"CTL","L":2.14,"h":0.81},{"p":"xCTᴷᴼ2","s":"CTL","L":2.26,"h":1.16},{"p":"xCTᴷᴼ2","s":"CTL","L":2.35,"h":1.59},{"p":"xCTᴷᴼ2","s":"CTL","L":2.44,"h":1.85},{"p":"xCTᴷᴼ2","s":"CTL","L":2.54,"h":1.52},{"p":"xCTᴷᴼ2","s":"CTL","L":2.63,"h":0.88},{"p":"xCTᴷᴼ2","s":"CTL","L":2.69,"h":0.71},{"p":"xCTᴷᴼ2","s":"CTL","L":2.75,"h":0.67},{"p":"xCTᴷᴼ2","s":"CTL","L":2.85,"h":0.88},{"p":"xCTᴷᴼ2","s":"CTL","L":2.97,"h":0.97},{"p":"xCTᴷᴼ2","s":"CTL","L":3.09,"h":0.81},{"p":"xCTᴷᴼ2","s":"CTL","L":3.25,"h":0.71},{"p":"xCTᴷᴼ2","s":"CTL","L":3.34,"h":0.76},{"p":"xCTᴷᴼ2","s":"CTL","L":3.41,"h":0.78},{"p":"xCTᴷᴼ2","s":"CTL","L":3.52,"h":0.46},{"p":"xCTᴷᴼ2","s":"CTL","L":3.62,"h":0.18},{"p":"xCTᴷᴼ2","s":"CTL","L":3.74,"h":0}
  ]},
  "spacing": 12,
  "hconcat": [
    {
      "title": {"text": "WT", "fontSize": 32, "fontWeight": "normal", "font": "Lato", "color": "#000", "anchor": "middle", "offset": 10, "dx": 61},
      "transform": [{"filter": "datum.p === 'WT'"}],
      "facet": {"row": {"field": "s", "type": "nominal",
        "sort": ["CC C2 GCLcᴷᴼ2","CC C2 GCLcᴷᴼ1","CC C2 xCTᴷᴼ2","CC C2 xCTᴷᴼ1","CC C2wt","CM C2 GCLcᴷᴼ2","CM C2 GCLcᴷᴼ1","CM C2 xCTᴷᴼ2","CM C2 xCTᴷᴼ1","CM C2wt","NAC","CTL"],
        "header": {"title": null, "labelAngle": 0, "labelAlign": "left", "labelFont": "Lato", "labelFontSize": 19.5, "labelFontWeight": "bold", "labelColor": "#000", "labelPadding": 16}}},
      "spacing": 0,
      "bounds": "flush",
      "spec": {
        "width": 286, "height": 47,
        "layer": [
          {"mark": {"type": "rule", "strokeWidth": 1.3},
           "encoding": {"y": {"datum": 0, "type": "quantitative", "axis": null},
             "color": {"field": "s", "type": "nominal", "legend": null, "scale": {"domain": ["CC C2 GCLcᴷᴼ2","CC C2 GCLcᴷᴼ1","CC C2 xCTᴷᴼ2","CC C2 xCTᴷᴼ1","CC C2wt","CM C2 GCLcᴷᴼ2","CM C2 GCLcᴷᴼ1","CM C2 xCTᴷᴼ2","CM C2 xCTᴷᴼ1","CM C2wt","NAC","CTL"], "range": ["#cccccc","#7a7a7a","#111111","#f2f200","#14a3a3","#cc22cc","#d8a8a0","#2f5e20","#22e022","#ff9a40","#00c2f0","#ff4848"]}}}},
          {"mark": {"type": "area", "interpolate": "monotone", "fillOpacity": 0.55},
           "encoding": {
             "x": {"field": "L", "type": "quantitative", "scale": {"domain": [0, 5.46], "nice": false, "zero": false},
               "axis": {"orient": "bottom", "offset": 3, "domainColor": "#000", "domainWidth": 1.5, "tickColor": "#000", "tickSize": 9, "tickWidth": 2,
                 "values": [0, 1, 2, 3, 4, 5],
                 "labelExpr": "datum.value < 0.01 ? '10⁰' : abs(datum.value - 2) < 0.01 ? '10²' : abs(datum.value - 4) < 0.01 ? '10⁴' : ''",
                 "labelOverlap": false, "labelFlush": false, "labelBound": false, "labelFont": "Liberation Sans", "labelFontSize": 15, "labelColor": "#222", "labelPadding": 18, "labelOffset": 4,
                 "title": "BODIPY 591/581 C11", "titleFont": "Lato", "titleFontSize": 13, "titleFontWeight": "normal", "titleColor": "#000", "titlePadding": 26, "titleX": 127}},
             "y": {"field": "h", "type": "quantitative", "scale": {"domain": [0, 1], "nice": false, "zero": true}, "axis": null},
             "color": {"field": "s", "type": "nominal", "legend": null}}},
          {"mark": {"type": "line", "interpolate": "monotone", "strokeWidth": 1.5},
           "encoding": {
             "x": {"field": "L", "type": "quantitative", "axis": {"title": "BODIPY 591/581 C11", "labelOverlap": false}},
             "y": {"field": "h", "type": "quantitative", "axis": null},
             "color": {"field": "s", "type": "nominal", "legend": null}}},
          {"mark": {"type": "rule", "color": "#000", "strokeWidth": 1.5},
           "encoding": {"y": {"datum": 2.38, "type": "quantitative", "axis": null},
             "strokeOpacity": {"condition": {"test": "datum.s === 'CC C2 GCLcᴷᴼ2'", "value": 1}, "value": 0}}},
          {"mark": {"type": "rule", "color": "#000", "strokeWidth": 1.5},
           "encoding": {"x": {"datum": 0, "type": "quantitative", "axis": {"title": "BODIPY 591/581 C11", "labelOverlap": false}}, "y": {"datum": -0.07, "type": "quantitative", "axis": null}, "y2": {"datum": 2.38}}},
          {"mark": {"type": "rule", "color": "#000", "strokeWidth": 1.5},
           "encoding": {"x": {"datum": 5.46, "type": "quantitative", "axis": {"title": "BODIPY 591/581 C11", "labelOverlap": false}}, "y": {"datum": -0.07, "type": "quantitative", "axis": null}, "y2": {"datum": 2.38}}}
        ]
      }
    },
    {
      "spacing": 26,
      "hconcat": [
        {
          "title": {"text": "xCTᴷᴼ1", "fontSize": 32, "fontWeight": "normal", "font": "Lato", "color": "#000", "anchor": "middle", "offset": 10, "dx": -10},
          "transform": [{"filter": "datum.p === 'xCTᴷᴼ1'"}],
          "facet": {"row": {"field": "s", "type": "nominal",
            "sort": ["CC C2 GCLcᴷᴼ2","CC C2 GCLcᴷᴼ1","CC C2 xCTᴷᴼ2","CC C2 xCTᴷᴼ1","CC C2wt","CM C2 GCLcᴷᴼ2","CM C2 GCLcᴷᴼ1","CM C2 xCTᴷᴼ2","CM C2 xCTᴷᴼ1","CM C2wt","NAC","CTL"],
            "header": null}},
          "spacing": 0,
          "bounds": "flush",
          "spec": {
            "width": 290, "height": 47,
            "layer": [
              {"mark": {"type": "rule", "strokeWidth": 1.3},
               "encoding": {"y": {"datum": 0, "type": "quantitative", "axis": null},
                 "color": {"field": "s", "type": "nominal", "legend": null}}},
              {"mark": {"type": "area", "interpolate": "monotone", "fillOpacity": 0.55},
               "encoding": {
                 "x": {"field": "L", "type": "quantitative", "scale": {"domain": [0, 5.43], "nice": false, "zero": false},
                   "axis": {"orient": "bottom", "offset": 3, "domainColor": "#000", "domainWidth": 1.5, "tickColor": "#000", "tickSize": 9, "tickWidth": 2,
                     "values": [0, 1, 2, 3, 4, 5],
                     "labelExpr": "datum.value < 0.01 ? '10⁰' : abs(datum.value - 2) < 0.01 ? '10²' : abs(datum.value - 4) < 0.01 ? '10⁴' : ''",
                     "labelOverlap": false, "labelFlush": false, "labelBound": false, "labelFont": "Liberation Sans", "labelFontSize": 15, "labelColor": "#222", "labelPadding": 18, "labelOffset": 4,
                     "title": "BODIPY 591/581 C11", "titleFont": "Lato", "titleFontSize": 13, "titleFontWeight": "normal", "titleColor": "#000", "titlePadding": 26, "titleX": 134}},
                 "y": {"field": "h", "type": "quantitative", "scale": {"domain": [0, 1], "nice": false, "zero": true}, "axis": null},
                 "color": {"field": "s", "type": "nominal", "legend": null}}},
              {"mark": {"type": "line", "interpolate": "monotone", "strokeWidth": 1.5},
               "encoding": {
                 "x": {"field": "L", "type": "quantitative", "axis": {"title": "BODIPY 591/581 C11", "labelOverlap": false}},
                 "y": {"field": "h", "type": "quantitative", "axis": null},
                 "color": {"field": "s", "type": "nominal", "legend": null}}},
              {"mark": {"type": "rule", "color": "#000", "strokeWidth": 1.5},
               "encoding": {"y": {"datum": 2.38, "type": "quantitative", "axis": null},
                 "strokeOpacity": {"condition": {"test": "datum.s === 'CC C2 GCLcᴷᴼ2'", "value": 1}, "value": 0}}},
              {"mark": {"type": "rule", "color": "#000", "strokeWidth": 1.5},
               "encoding": {"x": {"datum": 0, "type": "quantitative", "axis": {"title": "BODIPY 591/581 C11", "labelOverlap": false}}, "y": {"datum": -0.07, "type": "quantitative", "axis": null}, "y2": {"datum": 2.38}}},
              {"mark": {"type": "rule", "color": "#000", "strokeWidth": 1.5},
               "encoding": {"x": {"datum": 5.43, "type": "quantitative", "axis": {"title": "BODIPY 591/581 C11", "labelOverlap": false}}, "y": {"datum": -0.07, "type": "quantitative", "axis": null}, "y2": {"datum": 2.38}}}
            ]
          }
        },
        {
          "title": {"text": "xCTᴷᴼ2", "fontSize": 32, "fontWeight": "normal", "font": "Lato", "color": "#000", "anchor": "middle", "offset": 10, "dx": -5},
          "transform": [{"filter": "datum.p === 'xCTᴷᴼ2'"}],
          "facet": {"row": {"field": "s", "type": "nominal",
            "sort": ["CC C2 GCLcᴷᴼ2","CC C2 GCLcᴷᴼ1","CC C2 xCTᴷᴼ2","CC C2 xCTᴷᴼ1","CC C2wt","CM C2 GCLcᴷᴼ2","CM C2 GCLcᴷᴼ1","CM C2 xCTᴷᴼ2","CM C2 xCTᴷᴼ1","CM C2wt","NAC","CTL"],
            "header": null}},
          "spacing": 0,
          "bounds": "flush",
          "spec": {
            "width": 278, "height": 47,
            "layer": [
              {"mark": {"type": "rule", "strokeWidth": 1.3},
               "encoding": {"y": {"datum": 0, "type": "quantitative", "axis": null},
                 "color": {"field": "s", "type": "nominal", "legend": null}}},
              {"mark": {"type": "area", "interpolate": "monotone", "fillOpacity": 0.55},
               "encoding": {
                 "x": {"field": "L", "type": "quantitative", "scale": {"domain": [0, 5.15], "nice": false, "zero": false},
                   "axis": {"orient": "bottom", "offset": 3, "domainColor": "#000", "domainWidth": 1.5, "tickColor": "#000", "tickSize": 9, "tickWidth": 2,
                     "values": [0, 1, 2, 3, 4, 5],
                     "labelExpr": "datum.value < 0.01 ? '10⁰' : abs(datum.value - 2) < 0.01 ? '10²' : abs(datum.value - 4) < 0.01 ? '10⁴' : ''",
                     "labelOverlap": false, "labelFlush": false, "labelBound": false, "labelFont": "Liberation Sans", "labelFontSize": 15, "labelColor": "#222", "labelPadding": 20, "labelOffset": 4,
                     "title": "BODIPY 591/581 C11", "titleFont": "Lato", "titleFontSize": 13, "titleFontWeight": "normal", "titleColor": "#000", "titlePadding": 28, "titleX": 153}},
                 "y": {"field": "h", "type": "quantitative", "scale": {"domain": [0, 1], "nice": false, "zero": true}, "axis": null},
                 "color": {"field": "s", "type": "nominal", "legend": null}}},
              {"mark": {"type": "line", "interpolate": "monotone", "strokeWidth": 1.5},
               "encoding": {
                 "x": {"field": "L", "type": "quantitative", "axis": {"title": "BODIPY 591/581 C11", "labelOverlap": false}},
                 "y": {"field": "h", "type": "quantitative", "axis": null},
                 "color": {"field": "s", "type": "nominal", "legend": null}}},
              {"mark": {"type": "rule", "color": "#000", "strokeWidth": 1.5},
               "encoding": {"y": {"datum": 2.38, "type": "quantitative", "axis": null},
                 "strokeOpacity": {"condition": {"test": "datum.s === 'CC C2 GCLcᴷᴼ2'", "value": 1}, "value": 0}}},
              {"mark": {"type": "rule", "color": "#000", "strokeWidth": 1.5},
               "encoding": {"x": {"datum": 0, "type": "quantitative", "axis": {"title": "BODIPY 591/581 C11", "labelOverlap": false}}, "y": {"datum": -0.07, "type": "quantitative", "axis": null}, "y2": {"datum": 2.38}}}
            ]
          }
        }
      ]
    }
  ]
}
